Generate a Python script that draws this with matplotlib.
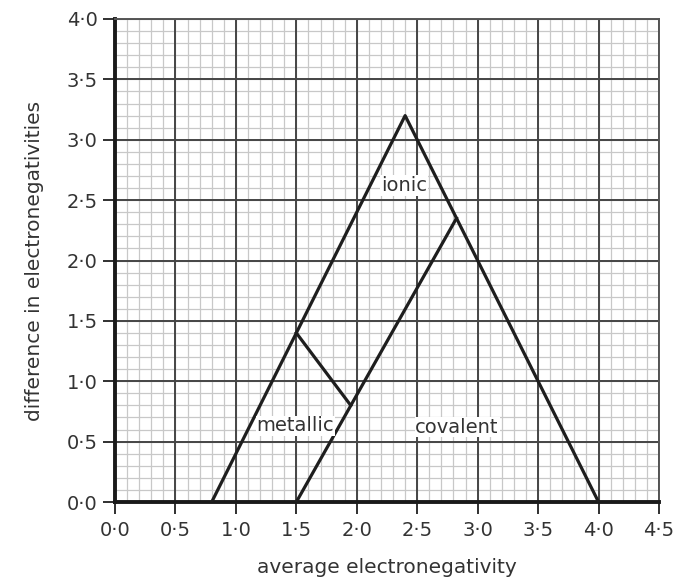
import matplotlib
matplotlib.use("Agg")
import matplotlib.pyplot as plt
import numpy as np
from matplotlib.ticker import FuncFormatter

# Data
outer_x = [0.8, 2.4, 4.0]
outer_y = [0.0, 3.2, 0.0]
covalent_x = [1.5, 2.825]
covalent_y = [0.0, 2.35]
metallic_x = [1.5, 1.95]
metallic_y = [1.4, 0.8]
labels = ["ionic", "metallic", "covalent"]
label_x = [2.39, 1.49, 2.83]
label_y = [2.62, 0.63, 0.62]
x_ticks = [0.0, 0.5, 1.0, 1.5, 2.0, 2.5, 3.0, 3.5, 4.0, 4.5]
y_ticks = [0.0, 0.5, 1.0, 1.5, 2.0, 2.5, 3.0, 3.5, 4.0]

plt.rcParams['font.family'] = ['DejaVu Sans']

fig = plt.figure(figsize=(6.79, 5.79), dpi=100)
ax = fig.add_axes([115/679, 1-502/579, (659-115)/679, (502-19)/579])
ax.set_xlim(0, 4.5)
ax.set_ylim(0, 4.0)

ax.set_xticks(x_ticks)
ax.set_yticks(y_ticks)
fmt = FuncFormatter(lambda v, p: f"{v:.1f}".replace(".", "\u00b7"))
ax.xaxis.set_major_formatter(fmt)
ax.yaxis.set_major_formatter(fmt)

# graph-paper grid: minor every 0.1, major every 0.5
minor_x = np.round(np.arange(0, 4.501, 0.1), 2)
minor_y = np.round(np.arange(0, 4.001, 0.1), 2)
ax.vlines(minor_x, 0, 4.0, colors='#c8c8c8', linewidth=0.9, zorder=0.1)
ax.hlines(minor_y, 0, 4.5, colors='#c8c8c8', linewidth=0.9, zorder=0.1)
ax.vlines(x_ticks, 0, 4.0, colors='#454545', linewidth=1.4, zorder=0.2)
ax.hlines(y_ticks, 0, 4.5, colors='#454545', linewidth=1.4, zorder=0.2)

ax.tick_params(which='major', direction='out', length=8.5, width=1.4, color='#303030',
               labelsize=14, labelcolor='#333333')
ax.tick_params(axis='x', pad=5)
ax.tick_params(axis='y', pad=4)

for s in ['top', 'right']:
    ax.spines[s].set_color('#555555')
    ax.spines[s].set_linewidth(1.4)
for s in ['left', 'bottom']:
    ax.spines[s].set_color('#1a1a1a')
    ax.spines[s].set_linewidth(2.8)

lw = 2.3
col = '#1e1e1e'
ax.plot(outer_x, outer_y, color=col, lw=lw, zorder=3)
ax.plot(covalent_x, covalent_y, color=col, lw=lw, zorder=3)
ax.plot(metallic_x, metallic_y, color=col, lw=lw, zorder=3)

for t, x, y in zip(labels, label_x, label_y):
    ax.text(x, y, t, ha='center', va='center', fontsize=14, color='#333333', zorder=4,
            bbox=dict(facecolor='white', edgecolor='none', pad=0.5))

ax.set_xlabel("average electronegativity", fontsize=14.5, color='#333333', labelpad=13)
ax.set_ylabel("difference in electronegativities", fontsize=14.5, color='#333333', labelpad=16)

fig.savefig("out.png", dpi=100)
